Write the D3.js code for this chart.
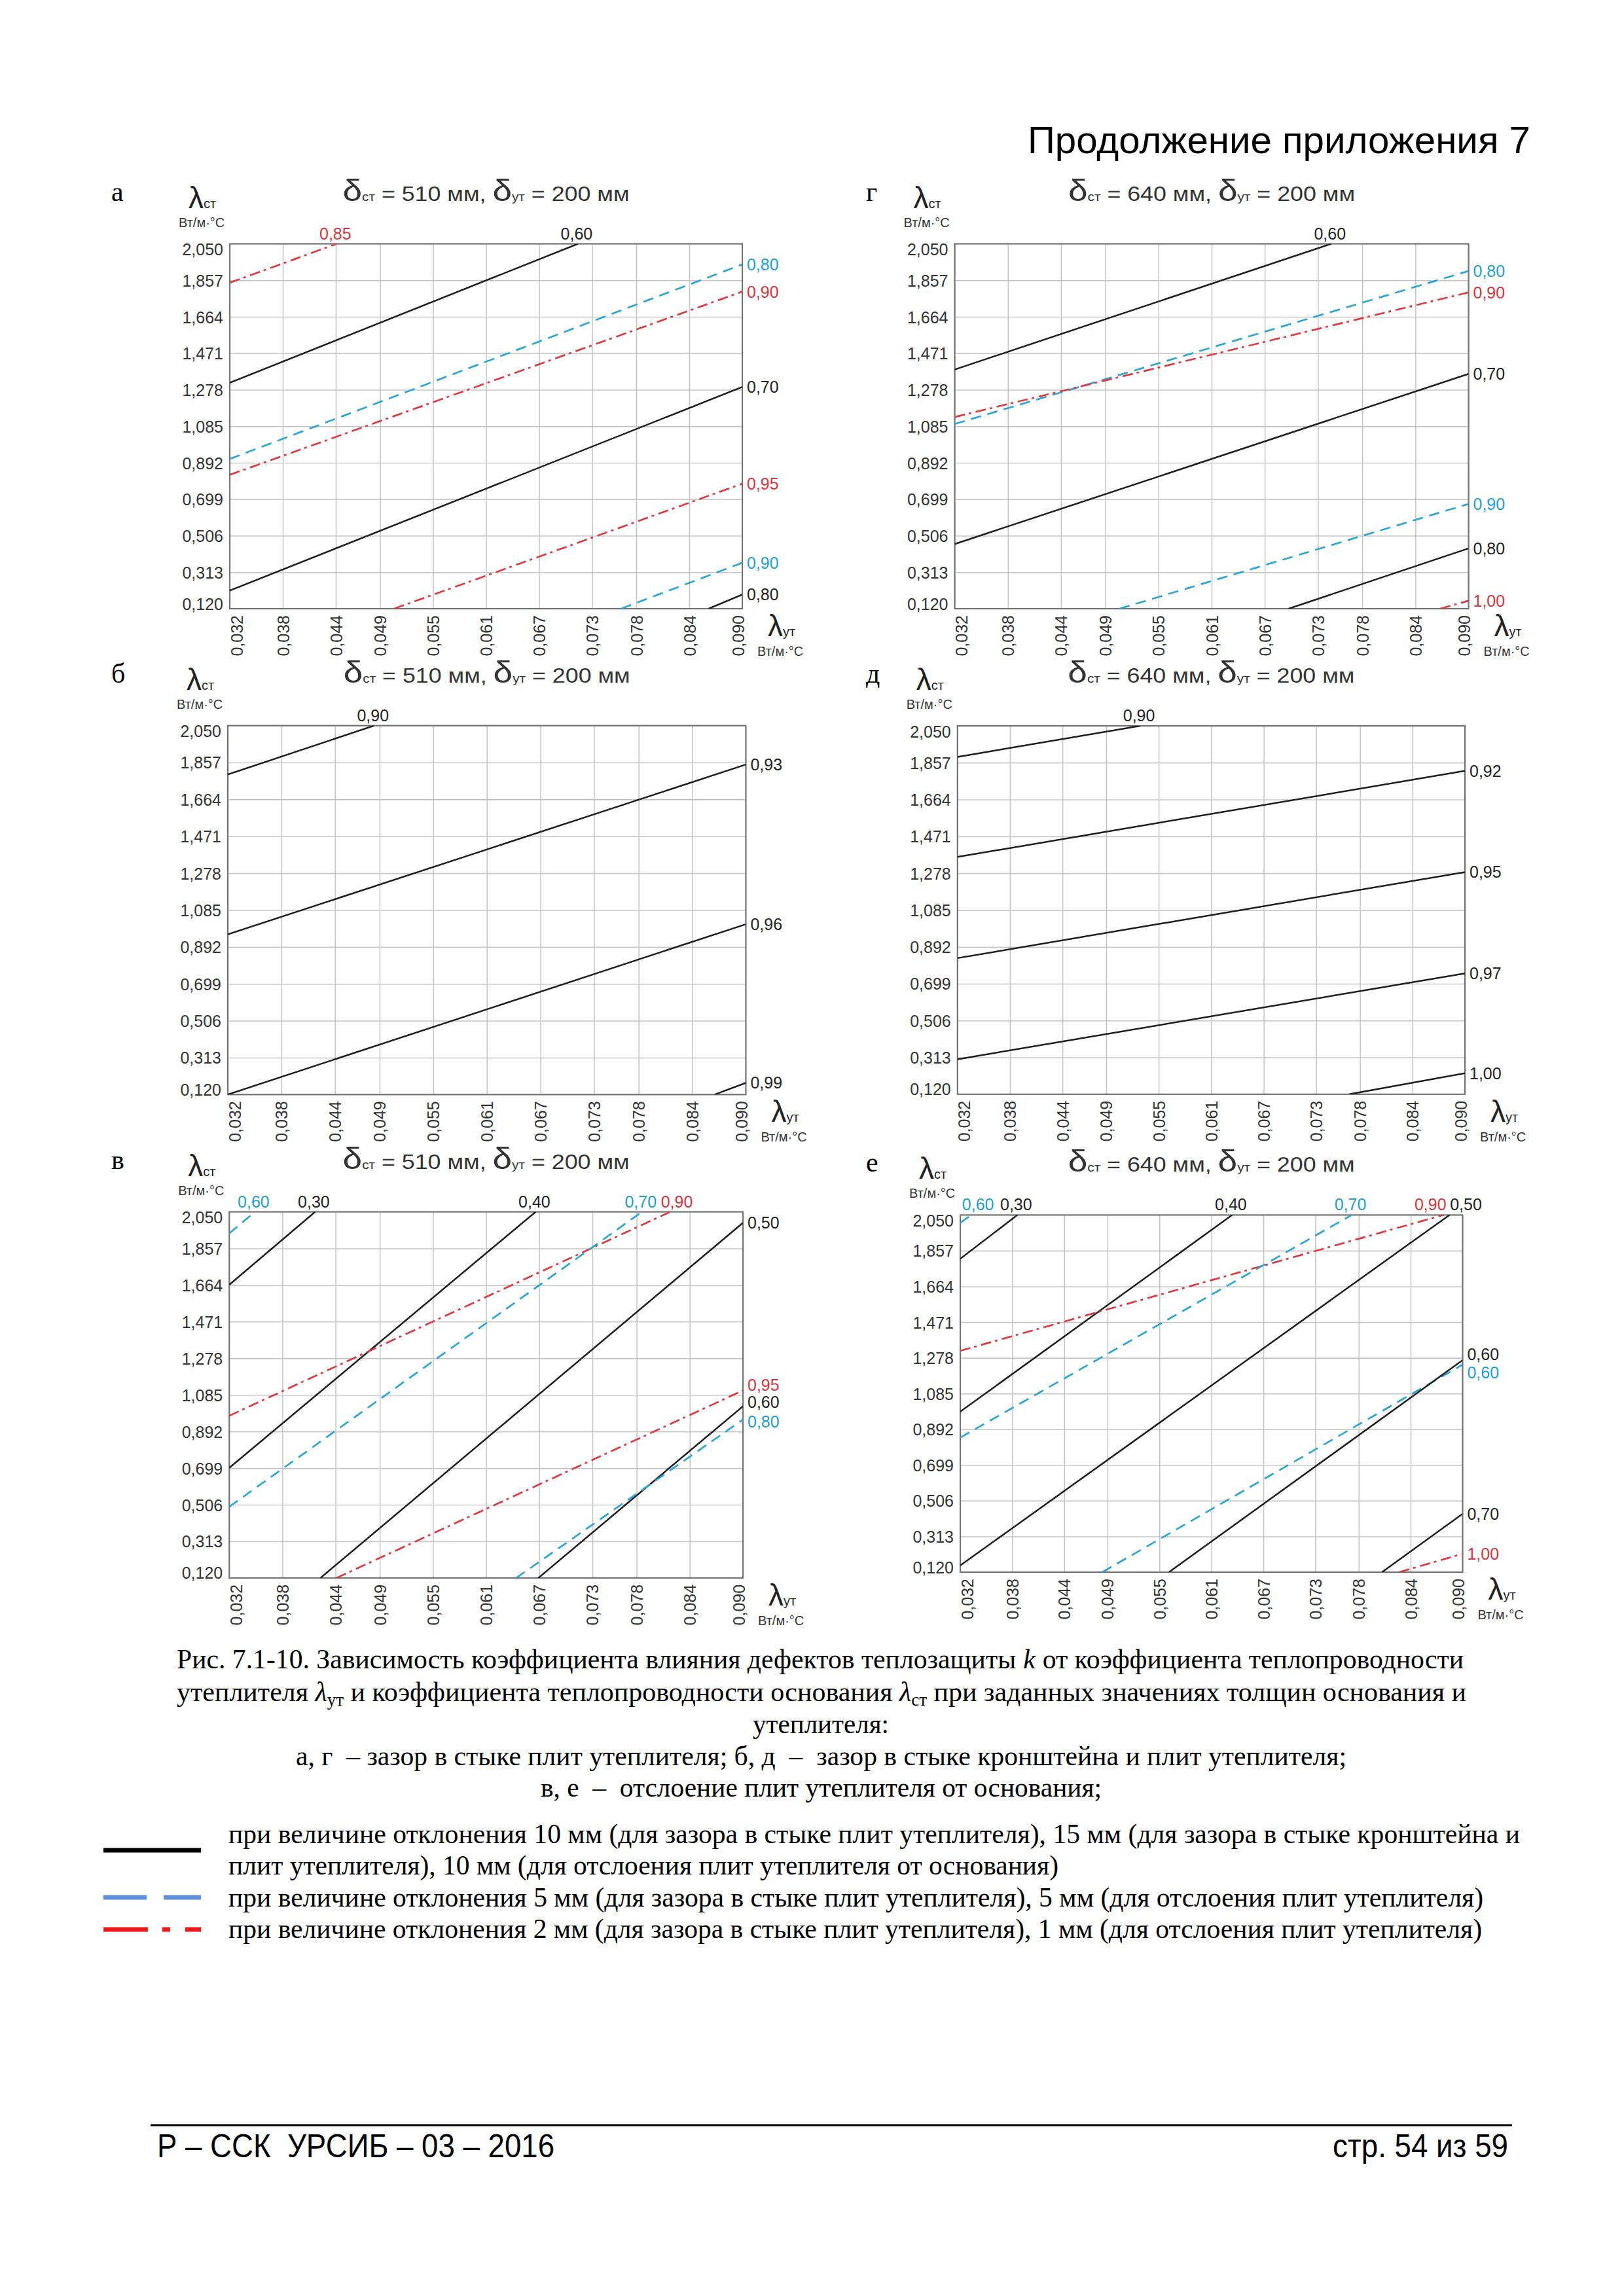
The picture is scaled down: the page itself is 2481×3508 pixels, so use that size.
<!DOCTYPE html>
<html><head><meta charset="utf-8">
<script src="https://cdn.jsdelivr.net/npm/d3@7"></script>
<style>html,body{margin:0;padding:0;background:#fff}</style>
</head><body>
<svg id="page" width="2481" height="3508" xmlns="http://www.w3.org/2000/svg"></svg>
<script>
// ---------------- DATA ----------------
const xTicks = [0.032,0.038,0.044,0.049,0.055,0.061,0.067,0.073,0.078,0.084,0.090];
const yTicks = [0.120,0.313,0.506,0.699,0.892,1.085,1.278,1.471,1.664,1.857,2.050];
const panelLetters = ["а","г","б","д","в","е"];
const panelDeltaSt = [510,640,510,640,510,640];
const panelDeltaUt = [200,200,200,200,200,200];
// series: s10 = 10/15 мм (solid), d5 = 5 мм (dashed), d2 = 2/1 мм (dash-dot)
// each line: [k label, series, start [λут, λст], end [λут, λст]]
const linesA = [
  ["0,85","d2",[0.032,1.844],[0.0441,2.050]],
  ["0,60","s10",[0.032,1.315],[0.0714,2.050]],
  ["0,80","d5",[0.032,0.912],[0.090,1.941]],
  ["0,90","d2",[0.032,0.828],[0.090,1.797]],
  ["0,70","s10",[0.032,0.216],[0.090,1.293]],
  ["0,95","d2",[0.0506,0.120],[0.090,0.781]],
  ["0,90","d5",[0.0763,0.120],[0.090,0.363]],
  ["0,80","s10",[0.0862,0.120],[0.090,0.195]]
];
const linesG = [
  ["0,60","s10",[0.032,1.385],[0.0745,2.050]],
  ["0,80","d5",[0.032,1.097],[0.090,1.906]],
  ["0,90","d2",[0.032,1.134],[0.090,1.793]],
  ["0,70","s10",[0.032,0.462],[0.090,1.362]],
  ["0,90","d5",[0.0506,0.120],[0.090,0.674]],
  ["0,80","s10",[0.0697,0.120],[0.090,0.439]],
  ["1,00","d2",[0.0868,0.120],[0.090,0.162]]
];
const linesB = [
  ["0,90","s10",[0.032,1.794],[0.0484,2.050]],
  ["0,93","s10",[0.032,0.958],[0.090,1.846]],
  ["0,96","s10",[0.032,0.120],[0.090,1.011]],
  ["0,99","s10",[0.0865,0.120],[0.090,0.181]]
];
const linesD = [
  ["0,90","s10",[0.032,1.887],[0.0529,2.050]],
  ["0,92","s10",[0.032,1.363],[0.090,1.814]],
  ["0,95","s10",[0.032,0.833],[0.090,1.284]],
  ["0,97","s10",[0.032,0.303],[0.090,0.753]],
  ["1,00","s10",[0.0768,0.120],[0.090,0.230]]
];
const linesV = [
  ["0,60","d5",[0.032,1.936],[0.0349,2.050]],
  ["0,30","s10",[0.032,1.665],[0.0417,2.050]],
  ["0,40","s10",[0.032,0.700],[0.0666,2.050]],
  ["0,90","d2",[0.032,0.975],[0.0818,2.050]],
  ["0,70","d5",[0.032,0.495],[0.0786,2.050]],
  ["0,50","s10",[0.0423,0.120],[0.090,1.992]],
  ["0,95","d2",[0.0441,0.120],[0.090,1.108]],
  ["0,60","s10",[0.0669,0.120],[0.090,1.025]],
  ["0,80","d5",[0.0644,0.120],[0.090,0.955]]
];
const linesE = [
  ["0,60","d5",[0.032,2.007],[0.0333,2.050]],
  ["0,30","s10",[0.032,1.813],[0.0386,2.050]],
  ["0,40","s10",[0.032,0.987],[0.0634,2.050]],
  ["0,90","d2",[0.032,1.316],[0.0878,2.050]],
  ["0,70","d5",[0.032,0.847],[0.0772,2.050]],
  ["0,50","s10",[0.032,0.156],[0.0885,2.050]],
  ["0,60","d5",[0.0484,0.120],[0.090,1.241]],
  ["0,60","s10",[0.0561,0.120],[0.090,1.265]],
  ["0,70","s10",[0.0807,0.120],[0.090,0.435]],
  ["1,00","d2",[0.0827,0.120],[0.090,0.219]]
];
const panelLines = [linesA, linesG, linesB, linesD, linesV, linesE];

const headerText = "Продолжение приложения 7";
const footerLeft = "Р – ССК  УРСИБ – 03 – 2016";
const footerRight = "стр. 54 из 59";
const legendTexts = [
  "при величине отклонения 10 мм (для зазора в стыке плит утеплителя), 15 мм (для зазора в стыке кронштейна и",
  "плит утеплителя), 10 мм (для отслоения плит утеплителя от основания)",
  "при величине отклонения 5 мм (для зазора в стыке плит утеплителя), 5 мм (для отслоения плит утеплителя)",
  "при величине отклонения 2 мм (для зазора в стыке плит утеплителя), 1 мм (для отслоения плит утеплителя)"
];

// ---------------- LAYOUT / STYLE ----------------
const panelBoxes = [
  [351,372.5,1134,930],[1458.5,372.5,2243.5,930],
  [348,1108.6,1139.4,1672.3],[1462.7,1109,2238,1671.8],
  [350.2,1851.5,1135,2410.9],[1467,1856.3,2234.4,2402]
];
const letterX = [170,1323,170,1323,170,1323];
const seriesStyle = {
  s10:{stroke:"#1d1d1d", width:2.5, dash:null, label:"#222"},
  d5:{stroke:"#2aa5d5", width:2.7, dash:"16,10", label:"#1d9fd1"},
  d2:{stroke:"#db3a40", width:2.7, dash:"16,6,4,7", label:"#d7343c"}
};
const labelNudge = {"4:3":[12,0],"5:0":[12,0],"5:3":[-18,0],"5:5":[27,0],
  "5:6":[0,12],"5:7":[0,-9],"4:6":[0,-9],"4:7":[0,-7],"4:8":[0,3]};
const SANS = "'Liberation Sans', Arial, sans-serif";
const SERIF = "'Liberation Serif', 'Times New Roman', serif";
const fmt = d => d.toFixed(3).replace(".", ",");

const svg = d3.select("#page");
svg.append("rect").attr("width",2481).attr("height",3508).attr("fill","#fff");
const defs = svg.append("defs");

panelBoxes.forEach((b, i) => {
  const [L,T,R,B] = b, w = R-L, h = B-T;
  const x = d3.scaleLinear().domain([xTicks[0], xTicks[xTicks.length-1]]).range([0,w]);
  const y = d3.scaleLinear().domain([yTicks[0], yTicks[yTicks.length-1]]).range([h,0]);
  const g = svg.append("g").attr("transform", `translate(${L},${T})`);

  // grid
  const gx = g.append("g").attr("transform",`translate(0,${h})`)
    .call(d3.axisBottom(x).tickValues(xTicks).tickSize(-h).tickFormat(""));
  const gy = g.append("g")
    .call(d3.axisLeft(y).tickValues(yTicks).tickSize(-w).tickFormat(""));
  [gx,gy].forEach(a => { a.select(".domain").remove();
    a.selectAll("line").attr("stroke","#c6c6c6").attr("stroke-width",1.6); });
  g.append("rect").attr("width",w).attr("height",h).attr("fill","none")
    .attr("stroke","#707070").attr("stroke-width",2);

  // y tick labels
  const ay = g.append("g").call(d3.axisLeft(y).tickValues(yTicks).tickSize(0).tickPadding(10).tickFormat(fmt));
  ay.select(".domain").remove();
  ay.selectAll("text").attr("font-family",SANS).attr("font-size",25).attr("fill","#333")
    .attr("dy","0.36em")
    .attr("transform", (d,k) => k===0 ? "translate(0,-8)" : (k===yTicks.length-1 ? "translate(0,8)" : null));

  // x tick labels (rotated)
  const ax = g.append("g").attr("transform",`translate(0,${h})`)
    .call(d3.axisBottom(x).tickValues(xTicks).tickSize(0).tickFormat(fmt));
  ax.select(".domain").remove();
  ax.selectAll("text").attr("font-family",SANS).attr("font-size",25).attr("fill","#333")
    .attr("transform","rotate(-90)").attr("text-anchor","end").attr("dy",0)
    .attr("x",-10).attr("y",(d,k) => 9 + (k===0 ? 10 : (k===xTicks.length-1 ? -7 : 0)));

  // lines
  const cid = "clip"+i;
  defs.append("clipPath").attr("id",cid).append("rect").attr("width",w).attr("height",h);
  const line = d3.line().x(d => x(d[0])).y(d => y(d[1]));
  const lg = g.append("g").attr("clip-path",`url(#${cid})`);
  panelLines[i].forEach(l => {
    const st = seriesStyle[l[1]];
    lg.append("path").attr("d", line([l[2], l[3]])).attr("fill","none")
      .attr("stroke",st.stroke).attr("stroke-width",st.width)
      .attr("stroke-dasharray",st.dash).attr("stroke-linecap","butt");
  });
  // line labels
  panelLines[i].forEach((l, j) => {
    const st = seriesStyle[l[1]];
    const nd = labelNudge[i+":"+j] || [0,0];
    const end = l[3];
    const t = g.append("text").text(l[0]).attr("font-family",SANS).attr("font-size",25).attr("fill",st.label);
    if (end[1] >= yTicks[yTicks.length-1] - 1e-6) {
      t.attr("x", x(end[0]) - 2 + nd[0]).attr("y", -7 + nd[1]).attr("text-anchor","middle");
    } else {
      t.attr("x", w + 7 + nd[0]).attr("y", y(end[1]) + nd[1]).attr("dy","0.36em");
    }
  });

  // title
  const tt = svg.append("text").attr("x",(L+R)/2).attr("y",T-66).attr("text-anchor","middle")
    .attr("font-family",SANS).attr("font-size",31).attr("fill","#333")
    .attr("textLength",438).attr("lengthAdjust","spacingAndGlyphs").style("white-space","pre");
  tt.append("tspan").attr("font-size",46).text("δ");
  tt.append("tspan").attr("font-size",18).text("ст");
  tt.append("tspan").text(` = ${panelDeltaSt[i]} мм, `);
  tt.append("tspan").attr("font-size",46).text("δ");
  tt.append("tspan").attr("font-size",18).text("ут");
  tt.append("tspan").text(` = ${panelDeltaUt[i]} мм`);

  // panel letter
  svg.append("text").attr("x",letterX[i]).attr("y",T-66).attr("font-family",SERIF)
    .attr("font-size",42).attr("fill","#000").text(panelLetters[i]);

  // y axis title
  const yt = svg.append("text").attr("x",L-63).attr("y",T-55).attr("font-family",SANS).attr("fill","#222");
  yt.append("tspan").attr("font-size",46).text("λ");
  yt.append("tspan").attr("font-size",20).text("ст");
  svg.append("text").attr("x",L-78).attr("y",T-26).attr("font-family",SANS).attr("font-size",20)
    .attr("fill","#333").text("Вт/м·°С");
  // x axis title
  const xt = svg.append("text").attr("x",R+39).attr("y",B+42).attr("font-family",SANS).attr("fill","#222");
  xt.append("tspan").attr("font-size",46).text("λ");
  xt.append("tspan").attr("font-size",20).text("ут");
  svg.append("text").attr("x",R+23).attr("y",B+72).attr("font-family",SANS).attr("font-size",20)
    .attr("fill","#333").text("Вт/м·°С");
});

// header
svg.append("text").attr("x",1570).attr("y",234).attr("font-family",SANS).attr("font-size",57)
  .attr("textLength",768).attr("lengthAdjust","spacingAndGlyphs").attr("fill","#000").text(headerText);

// caption line 1 as separate runs (scaled to the measured width)
function placeRuns(runs, x0, y0, totalLen, gap) {
  const els = runs.map(r => svg.append("text").attr("y",y0).attr("font-family",SERIF)
    .attr("font-size",42).attr("fill","#000").attr("font-style", r.italic ? "italic" : null)
    .style("white-space","pre").text(r.t));
  const widths = els.map(e => e.node().getComputedTextLength());
  const sum = widths.reduce((a,b)=>a+b,0);
  const k = (totalLen - gap*(runs.length-1)) / sum;
  let cx = x0;
  els.forEach((e, idx) => {
    const wl = widths[idx]*k;
    e.attr("x", cx).attr("textLength", wl).attr("lengthAdjust","spacingAndGlyphs");
    cx += wl + gap;
  });
}
placeRuns([
  {t:"Рис. 7.1-10. Зависимость коэффициента влияния дефектов теплозащиты"},
  {t:"k", italic:true},
  {t:"от коэффициента теплопроводности"}
], 270, 2549, 1966, 11);

const cap = [
  {x:270, y:2599, len:1970}, {x:1150, y:2648, len:208},
  {x:452, y:2697, len:1605}, {x:826, y:2745, len:857}
];
const capT = cap.map(c => svg.append("text").attr("x",c.x).attr("y",c.y).attr("font-family",SERIF)
  .attr("font-size",42).attr("fill","#000").attr("textLength",c.len)
  .attr("lengthAdjust","spacingAndGlyphs").style("white-space","pre"));
capT[0].append("tspan").text("утеплителя ");
capT[0].append("tspan").attr("font-style","italic").text("λ");
capT[0].append("tspan").attr("font-size",27).attr("dy",7).text("ут");
capT[0].append("tspan").attr("dy",-7).text(" и коэффициента теплопроводности основания ");
capT[0].append("tspan").attr("font-style","italic").text("λ");
capT[0].append("tspan").attr("font-size",27).attr("dy",7).text("ст");
capT[0].append("tspan").attr("dy",-7).text(" при заданных значениях толщин основания и");
capT[1].text("утеплителя:");
capT[2].text("а, г  – зазор в стыке плит утеплителя; б, д  –  зазор в стыке кронштейна и плит утеплителя;");
capT[3].text("в, е  –  отслоение плит утеплителя от основания;");

// legend
const legY = [2816, 2864, 2913, 2961], legLen = [1973, 1268, 1917, 1915];
legendTexts.forEach((t, k) => svg.append("text").attr("x",349).attr("y",legY[k]).attr("font-family",SERIF)
  .attr("font-size",42).attr("fill","#000").attr("textLength",legLen[k])
  .attr("lengthAdjust","spacingAndGlyphs").text(t));
const legLines = [
  {y:2827, c:"#000000", dash:null},
  {y:2899, c:"#5b8fd9", dash:"66,26"},
  {y:2948, c:"#f01818", dash:"68,22,12,23,24"}
];
legLines.forEach(l => svg.append("line").attr("x1",158).attr("x2",307).attr("y1",l.y).attr("y2",l.y)
  .attr("stroke",l.c).attr("stroke-width",7).attr("stroke-dasharray",l.dash));

// footer
svg.append("line").attr("x1",230).attr("x2",2310).attr("y1",3247).attr("y2",3247)
  .attr("stroke","#000").attr("stroke-width",3);
svg.append("text").attr("x",240).attr("y",3296).attr("font-family",SANS).attr("font-size",50)
  .attr("textLength",607).attr("lengthAdjust","spacingAndGlyphs").style("white-space","pre").text(footerLeft);
svg.append("text").attr("x",2036).attr("y",3296).attr("font-family",SANS).attr("font-size",50)
  .attr("textLength",268).attr("lengthAdjust","spacingAndGlyphs").text(footerRight);
</script>
</body></html>
